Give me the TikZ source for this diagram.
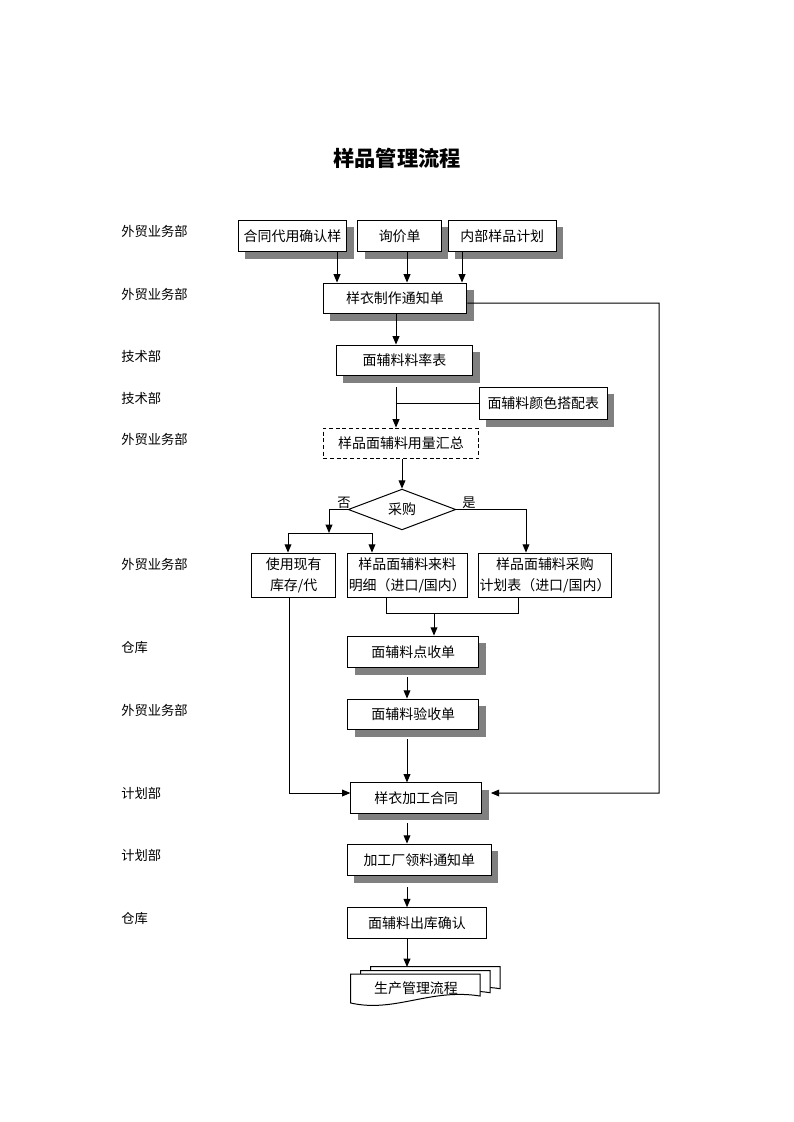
\documentclass[tikz,border=0pt]{standalone}
\usepackage{fontspec}
\setmainfont{Noto Sans CJK SC}
\usetikzlibrary{arrows.meta,shapes,shadows}

\tikzset{
  box/.style={draw, rectangle, fill=white, line width=0.75pt, inner sep=1pt,
    minimum height=23.25pt, align=center, font=\fontsize{10.5}{15.75}\selectfont},
  sbox/.style={drop shadow={shadow xshift=5.2pt, shadow yshift=-5.2pt, fill=black!50, opacity=1}},
  decide/.style={draw, diamond, fill=white, line width=0.75pt, inner sep=0pt,
    minimum width=81pt, minimum height=27.75pt, font=\fontsize{10.5}{12}\selectfont},
  lbl/.style={font=\fontsize{10}{12}\selectfont},
  lane/.style={lbl, anchor=west, inner sep=0pt},
  arr/.style={line width=0.75pt, -{Triangle[length=2.2mm,width=1.8mm]}},
  ln/.style={line width=0.75pt}
}

\begin{document}
\begin{tikzpicture}[x=0.26458mm, y=-0.26458mm]
  \useasboundingbox (0,0) rectangle (793,1122);

  \node[font=\fontsize{16}{16}\selectfont\bfseries] (title) at (397,158) {样品管理流程};

  % departments on the left
  \foreach \y/\t [count=\i] in {231/外贸业务部, 294/外贸业务部, 356/技术部, 398/技术部,
      439/外贸业务部, 564/外贸业务部/采购部, 647/仓库, 710/外贸业务部/采购部,
      793/计划部, 855/计划部, 918/仓库}
    \node[lane] (lane\i) at (121,\y) {\t};

  % boxes
  \node[box,sbox,minimum width=81.75pt,minimum height=24pt] (hetong) at (292.5,236) {合同代用确认样};
  \node[box,sbox,minimum width=63pt,minimum height=24pt] (xunjia) at (399.7,236) {询价单};
  \node[box,sbox,minimum width=81.5pt,minimum height=24pt] (neibu) at (502.3,236) {内部样品计划};
  \node[box,sbox,minimum width=108.2pt] (tongzhi) at (394.9,298.5) {样衣制作通知单};
  \node[box,sbox,minimum width=102.75pt] (lvbiao) at (404.5,360.5) {面辅料料率表};
  \node[box,sbox,minimum width=96.5pt,minimum height=24.75pt] (yanse) at (543.3,403.5) {面辅料颜色搭配表};
  \node[box,dash pattern=on 3pt off 2pt,minimum width=117pt] (huizong) at (401,443.5) {样品面辅料用量汇总};
  \node[decide] (caigou) at (402,509.5) {采购};
  \node[lbl] (fou) at (344,503) {否};
  \node[lbl] (shi) at (469,503) {是};
  \node[box,minimum width=63pt,minimum height=33.75pt] (xianyou) at (293.7,575.5) {使用现有\\库存/代};
  \node[box,minimum width=90.5pt,minimum height=33.75pt] (laiiao) at (407.3,575.5) {样品面辅料来料\\明细（进口/国内）};
  \node[box,minimum width=99pt,minimum height=33.75pt] (jihua) at (545,575.5) {样品面辅料采购\\计划表（进口/国内）};
  \node[box,sbox,minimum width=98.5pt,minimum height=24pt] (dianshou) at (413.3,652) {面辅料点收单};
  \node[box,sbox,minimum width=98.5pt] (yanshou) at (413.3,714.5) {面辅料验收单};
  \node[box,sbox,minimum width=98.5pt,minimum height=22.75pt] (jiagong) at (416.3,798) {样衣加工合同};
  \node[box,sbox,minimum width=108.5pt,minimum height=24pt] (lingliao) at (419.3,860) {加工厂领料通知单};
  \node[box,minimum width=105pt,minimum height=22.9pt] (chuku) at (417,923) {面辅料出库确认};

  % stacked document
  \foreach \dx/\dy in {20/-7.3, 10/-3.3, 0/0}
    \draw[ln, fill=white, shift={(\dx,\dy)}] (350.7,974) -- (480,974) -- (480,996)
      .. controls (430,988) and (395,1013) .. (350.7,1003) -- cycle;
  \node[font=\fontsize{10.5}{12}\selectfont] (shengchan) at (416,988) {生产管理流程};

  % helper points
  \coordinate (a1) at (337,0);
  \coordinate (a2) at (407,0);
  \coordinate (a3) at (462,0);
  \coordinate (c0) at (396,0);
  \coordinate (c1) at (396,387);
  \coordinate (rbot) at (659,793);
  \coordinate (fork) at (329,533);
  \coordinate (fl) at (288,533);
  \coordinate (fr) at (372,533);
  \coordinate (jx) at (526,0);
  \coordinate (jl) at (386,613);
  \coordinate (jr) at (518,613);
  \coordinate (jm) at (434,613);
  \coordinate (m1) at (407,677);
  \coordinate (m2) at (407,739);
  \coordinate (m3) at (407,823);
  \coordinate (m4) at (407,887);
  \coordinate (doctop) at (407,967);

  % connectors
  \draw[arr] (hetong.south -| a1) -- (tongzhi.north -| a1);
  \draw[arr] (xunjia.south -| a2) -- (tongzhi.north -| a2);
  \draw[arr] (neibu.south -| a3) -- (tongzhi.north -| a3);
  \draw[arr] ([yshift=-3.4pt]tongzhi.east) -| (rbot) -- ([yshift=3.75pt,xshift=6.5pt]jiagong.east);
  \draw[arr] (tongzhi.south -| c0) -- (lvbiao.north -| c0);
  \draw[arr] (c1) -- (huizong.north -| c1);
  \draw[ln] (yanse.west) -- (yanse.west -| c1);
  \draw[arr] (huizong.south -| caigou.north) -- (caigou.north);
  \draw[arr] (caigou.west) -| (fork);
  \draw[ln] (fl) -- (fr);
  \draw[arr] (fl) -- (xianyou.north -| fl);
  \draw[arr] (fr) -- (laiiao.north -| fr);
  \draw[arr] (caigou.east) -| (jihua.north -| jx);
  \draw[ln] (laiiao.south -| jl) |- (jr) -- (jihua.south -| jr);
  \draw[arr] (jm) -- (dianshou.north -| jm);
  \draw[arr] ([xshift=-3.5pt]xianyou.south) |- ([yshift=3.75pt]jiagong.west);
  \draw[arr] (m1) -- (yanshou.north -| m1);
  \draw[arr] (m2) -- (jiagong.north -| m2);
  \draw[arr] (m3) -- (lingliao.north -| m3);
  \draw[arr] (m4) -- (chuku.north -| m4);
  \draw[arr] (chuku.south -| m4) -- (doctop);
\end{tikzpicture}
\end{document}
